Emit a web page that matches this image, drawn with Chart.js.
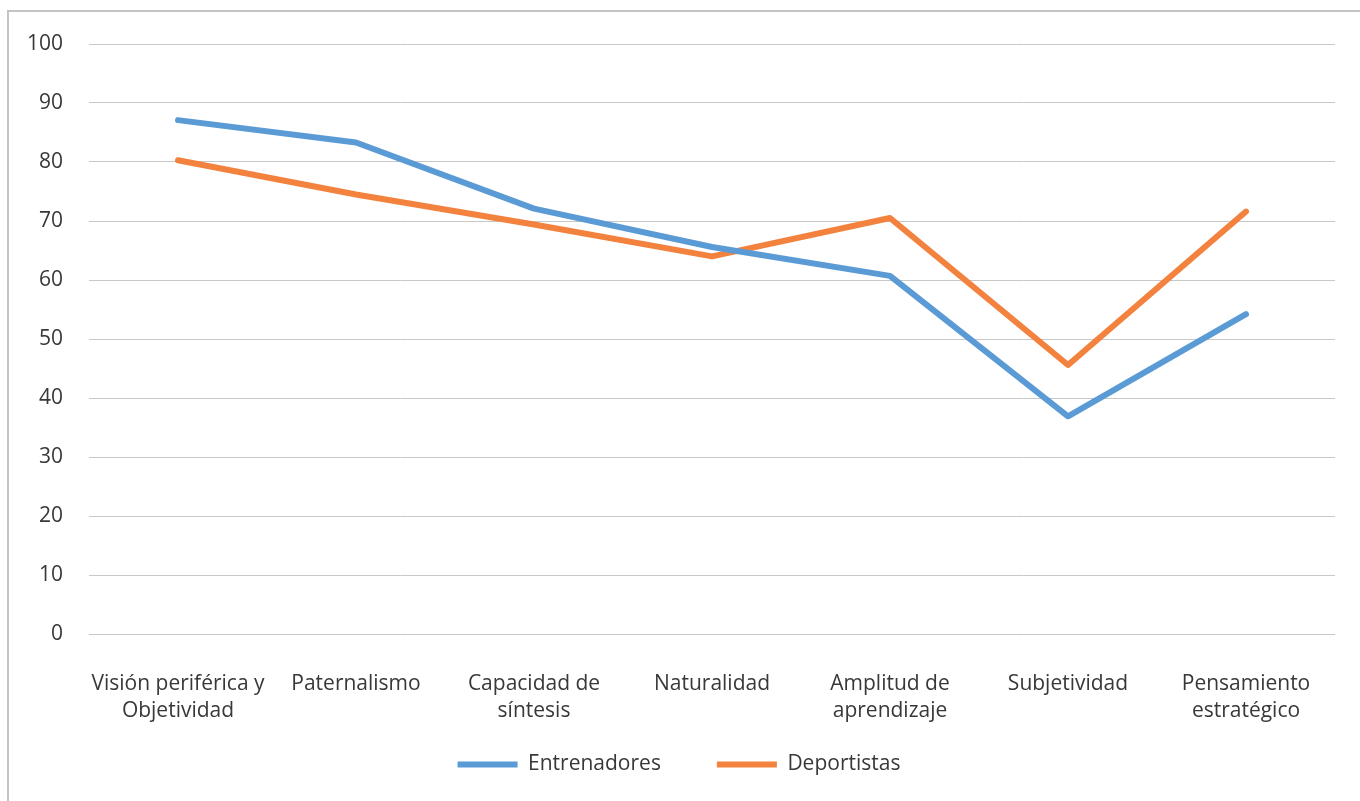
<!DOCTYPE html>
<html>
<head>
<meta charset="utf-8">
<script src="https://cdn.jsdelivr.net/npm/chart.js@4"></script>
<style>
  html, body { margin: 0; padding: 0; background: #fff; overflow: hidden; }
  #frame {
    position: absolute; left: 7px; top: 10px;
    width: 1353px; height: 791px;
    border-left: 2px solid #c4c4c4; border-top: 2px solid #c4c4c4;
  }
  #wrap { position: absolute; left: 0; top: 0; width: 1351px; height: 789px; }
</style>
</head>
<body>
<div id="frame"><div id="wrap"><canvas id="c"></canvas></div></div>
<script>
const categories = [
  ['Visión periférica y', 'Objetividad'],
  'Paternalismo',
  ['Capacidad de', 'síntesis'],
  'Naturalidad',
  ['Amplitud de', 'aprendizaje'],
  'Subjetividad',
  ['Pensamiento', 'estratégico']
];
const entrenadores = [87.1, 83.3, 72.1, 65.6, 60.7, 36.9, 54.2];
const deportistas  = [80.3, 74.5, 69.4, 64.0, 70.5, 45.6, 71.6];
const yTicks = [0, 10, 20, 30, 40, 50, 60, 70, 80, 90, 100];

const FONT = '"Open Sans", "DejaVu Sans", sans-serif';
const TEXT = '#383838';

// compact legend strip, placed a fixed distance below the plot
const legendPlacement = {
  id: 'legendPlacement',
  beforeLayout(chart) {
    const lg = chart.legend;
    if (lg && !lg._compact) {
      const fit = lg.fit;
      lg.fit = function () { fit.call(this); this.height = 67; };
      lg._compact = true;
    }
  },
  afterLayout(chart) {
    const lg = chart.legend;
    if (!lg) return;
    lg.top = chart.chartArea.bottom + 64;
    lg.height = chart.height - lg.top;
    lg.bottom = chart.height;
    lg.left += 7;
    lg.right += 7;
  }
};

new Chart(document.getElementById('c'), {
  type: 'line',
  data: {
    labels: categories,
    datasets: [
      { label: 'Entrenadores', data: entrenadores, borderColor: '#5b9bd5', backgroundColor: '#5b9bd5',
        borderWidth: 6, pointRadius: 0, pointHoverRadius: 0, tension: 0, borderCapStyle: 'round', borderJoinStyle: 'round' },
      { label: 'Deportistas', data: deportistas, borderColor: '#f4823f', backgroundColor: '#f4823f',
        borderWidth: 6, pointRadius: 0, pointHoverRadius: 0, tension: 0, borderCapStyle: 'round', borderJoinStyle: 'round' }
    ]
  },
  plugins: [legendPlacement],
  options: {
    responsive: true,
    maintainAspectRatio: false,
    animation: false,
    layout: { padding: { top: 32, right: 25, bottom: 0, left: 0 } },
    plugins: {
      tooltip: { enabled: false },
      legend: {
        position: 'bottom',
        labels: {
          usePointStyle: true,
          pointStyle: 'line',
          pointStyleWidth: 60,
          boxWidth: 60,
          boxHeight: 10,
          padding: 56,
          color: TEXT,
          font: { family: FONT, size: 21 }
        }
      }
    },
    scales: {
      x: {
        offset: true,
        afterFit: s => { s.height = 100; },
        grid: { display: false, drawTicks: false },
        border: { display: false },
        ticks: { color: TEXT, font: { family: FONT, size: 21, lineHeight: 1.286 }, padding: 37, maxRotation: 0, autoSkip: false }
      },
      y: {
        min: 0, max: 100,
        afterFit: s => { s.width = 80; s.paddingTop = 0; s.paddingBottom = 0; },
        afterBuildTicks: s => { s.ticks = yTicks.map(v => ({ value: v })); },
        grid: { color: '#c8c8c8', lineWidth: 1, drawTicks: false },
        border: { display: false },
        ticks: { color: TEXT, font: { family: FONT, size: 21 }, padding: 26 }
      }
    }
  }
});
</script>
</body>
</html>
